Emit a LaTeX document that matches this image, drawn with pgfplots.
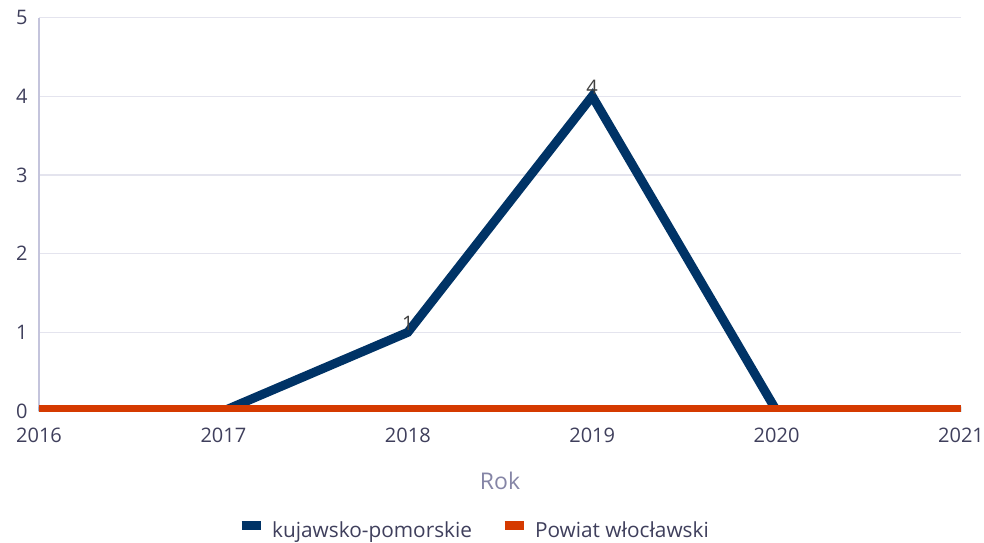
\documentclass[border=0pt]{standalone}
\usepackage{pgfplots}
\pgfplotsset{compat=1.18}
\usepackage{fontspec}
\setmainfont{Open Sans}
\definecolor{kpblue}{HTML}{003366}
\definecolor{pworange}{HTML}{D53A00}
\definecolor{tickcol}{HTML}{3F3F5C}
\definecolor{labcol}{HTML}{8585A6}
\definecolor{gridcol}{HTML}{E4E4EE}
\definecolor{axcol}{HTML}{C4C4DC}
\begin{document}
\begin{tikzpicture}
\path (-19.5pt,-65.5pt) rectangle (472.5pt,205.5pt);
\begin{axis}[
  at={(0,0)}, anchor=south west,
  scale only axis, width=461pt, height=196.75pt,
  xmin=2016, xmax=2021, ymin=0, ymax=5,
  xtick={2016,2017,2018,2019,2020,2021},
  ytick={0,1,2,3,4,5},
  /pgf/number format/1000 sep={},
  /pgf/number format/assume math mode=true,
  axis lines*=left,
  x axis line style={draw=none},
  y axis line style={draw=axcol, line width=0.8pt, -},
  major tick length=0pt,
  ymajorgrids, grid style={draw=gridcol, line width=0.6pt},
  tick label style={font=\fontsize{10}{12}\selectfont, text=tickcol, inner sep=0pt},
  yticklabel style={xshift=-5.5pt},
  xticklabel style={yshift=-8.5pt},
  xlabel={Rok},
  xlabel style={at={(axis description cs:0.5,0)}, anchor=center, yshift=-35pt, font=\fontsize{11.5}{13}\selectfont, text=labcol, inner sep=0pt},
  legend style={at={(axis description cs:0.4707,0)}, anchor=center, yshift=-60pt, draw=none, fill=none,
    legend columns=2, font=\fontsize{10.4}{12}\selectfont, text=tickcol, inner sep=0pt,
    nodes={inner sep=0pt},
    /tikz/every odd column/.append style={column sep=3.5pt},
    /tikz/every even column/.append style={column sep=14pt}},
  legend image code/.code={\draw[#1, line width=4.5pt] (0pt,2.6pt) -- (9.5pt,2.6pt);},
]
\addplot[kpblue, line width=4.5pt, line join=miter] coordinates {(2016,0)(2017,0)(2018,1)(2019,4)(2020,0)(2021,0)};
\addlegendentry{kujawsko-pomorskie}
\addplot[pworange, line width=6pt] coordinates {(2016,0)(2017,0)(2018,0)(2019,0)(2020,0)(2021,0)};
\addlegendentry{Powiat włocławski}
\addplot[draw=none, forget plot, nodes near coords,
  every node near coord/.append style={font=\fontsize{10}{12}\selectfont, text=black!75, yshift=-2.5pt}]
  coordinates {(2018,1)(2019,4)};
\end{axis}
\end{tikzpicture}
\end{document}
